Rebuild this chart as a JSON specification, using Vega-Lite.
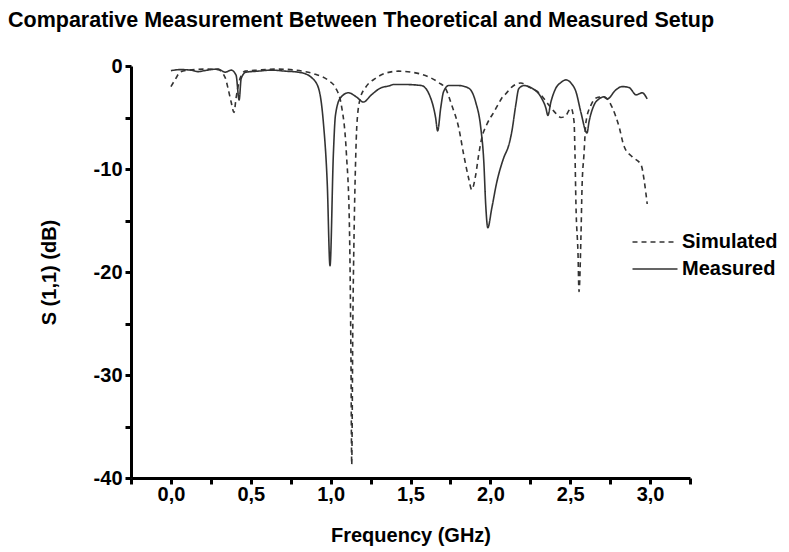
{
  "$schema": "https://vega.github.io/schema/vega-lite/v6.json",
  "width": 559,
  "height": 412,
  "autosize": {"type": "none"},
  "padding": {"left": 131, "top": 66, "right": 99, "bottom": 74},
  "background": "white",
  "title": {
    "text": "Comparative Measurement Between Theoretical and Measured Setup",
    "anchor": "start",
    "frame": "group",
    "dx": -123,
    "offset": 25,
    "font": "Liberation Sans",
    "fontSize": 21.5,
    "fontWeight": "bold",
    "color": "black"
  },
  "config": {
    "view": {"stroke": null},
    "axis": {
      "grid": false,
      "domainColor": "black",
      "domainWidth": 3,
      "tickColor": "black",
      "tickWidth": 3,
      "tickSize": 6,
      "labelFont": "Liberation Sans",
      "labelFontSize": 20,
      "labelFontWeight": "bold",
      "labelColor": "black",
      "titleFont": "Liberation Sans",
      "titleFontSize": 20,
      "titleFontWeight": "bold",
      "titleColor": "black"
    }
  },
  "data": {
    "values": [
      {"f": 0.0, "db": -0.45, "s": "Measured"},
      {"f": 0.06, "db": -0.35, "s": "Measured"},
      {"f": 0.125, "db": -0.4, "s": "Measured"},
      {"f": 0.17, "db": -0.55, "s": "Measured"},
      {"f": 0.21, "db": -0.45, "s": "Measured"},
      {"f": 0.25, "db": -0.35, "s": "Measured"},
      {"f": 0.295, "db": -0.3, "s": "Measured"},
      {"f": 0.34, "db": -0.6, "s": "Measured"},
      {"f": 0.377, "db": -0.4, "s": "Measured"},
      {"f": 0.408, "db": -0.9, "s": "Measured"},
      {"f": 0.427, "db": -3.3, "s": "Measured"},
      {"f": 0.44, "db": -1.2, "s": "Measured"},
      {"f": 0.47, "db": -0.6, "s": "Measured"},
      {"f": 0.545, "db": -0.5, "s": "Measured"},
      {"f": 0.628, "db": -0.4, "s": "Measured"},
      {"f": 0.716, "db": -0.5, "s": "Measured"},
      {"f": 0.797, "db": -0.6, "s": "Measured"},
      {"f": 0.84, "db": -0.75, "s": "Measured"},
      {"f": 0.879, "db": -1.1, "s": "Measured"},
      {"f": 0.923, "db": -2.1, "s": "Measured"},
      {"f": 0.954, "db": -5.4, "s": "Measured"},
      {"f": 0.979, "db": -11.5, "s": "Measured"},
      {"f": 0.996, "db": -19.4, "s": "Measured"},
      {"f": 1.017, "db": -8.6, "s": "Measured"},
      {"f": 1.03, "db": -4.8, "s": "Measured"},
      {"f": 1.061, "db": -3.1, "s": "Measured"},
      {"f": 1.111, "db": -2.6, "s": "Measured"},
      {"f": 1.161, "db": -3.0, "s": "Measured"},
      {"f": 1.205, "db": -3.5, "s": "Measured"},
      {"f": 1.255, "db": -2.8, "s": "Measured"},
      {"f": 1.318, "db": -2.1, "s": "Measured"},
      {"f": 1.362, "db": -1.95, "s": "Measured"},
      {"f": 1.394, "db": -1.8, "s": "Measured"},
      {"f": 1.469, "db": -1.8, "s": "Measured"},
      {"f": 1.569, "db": -1.9, "s": "Measured"},
      {"f": 1.626, "db": -3.1, "s": "Measured"},
      {"f": 1.657, "db": -5.0, "s": "Measured"},
      {"f": 1.67, "db": -6.3, "s": "Measured"},
      {"f": 1.689, "db": -4.1, "s": "Measured"},
      {"f": 1.707, "db": -2.5, "s": "Measured"},
      {"f": 1.739, "db": -1.9, "s": "Measured"},
      {"f": 1.802, "db": -1.9, "s": "Measured"},
      {"f": 1.864, "db": -2.15, "s": "Measured"},
      {"f": 1.908, "db": -3.5, "s": "Measured"},
      {"f": 1.94, "db": -6.0, "s": "Measured"},
      {"f": 1.959, "db": -9.3, "s": "Measured"},
      {"f": 1.971, "db": -13.5, "s": "Measured"},
      {"f": 1.984, "db": -15.7, "s": "Measured"},
      {"f": 2.009, "db": -13.8, "s": "Measured"},
      {"f": 2.04, "db": -11.3, "s": "Measured"},
      {"f": 2.084, "db": -8.9, "s": "Measured"},
      {"f": 2.115, "db": -7.7, "s": "Measured"},
      {"f": 2.134, "db": -6.4, "s": "Measured"},
      {"f": 2.159, "db": -3.8, "s": "Measured"},
      {"f": 2.178, "db": -2.2, "s": "Measured"},
      {"f": 2.21, "db": -1.9, "s": "Measured"},
      {"f": 2.26, "db": -2.15, "s": "Measured"},
      {"f": 2.316, "db": -3.0, "s": "Measured"},
      {"f": 2.348, "db": -4.1, "s": "Measured"},
      {"f": 2.36, "db": -4.8, "s": "Measured"},
      {"f": 2.379, "db": -3.5, "s": "Measured"},
      {"f": 2.41, "db": -2.15, "s": "Measured"},
      {"f": 2.442, "db": -1.6, "s": "Measured"},
      {"f": 2.473, "db": -1.35, "s": "Measured"},
      {"f": 2.505, "db": -1.65, "s": "Measured"},
      {"f": 2.536, "db": -2.5, "s": "Measured"},
      {"f": 2.567, "db": -4.5, "s": "Measured"},
      {"f": 2.605, "db": -6.5, "s": "Measured"},
      {"f": 2.618, "db": -5.4, "s": "Measured"},
      {"f": 2.649, "db": -3.8, "s": "Measured"},
      {"f": 2.68, "db": -3.2, "s": "Measured"},
      {"f": 2.712, "db": -3.0, "s": "Measured"},
      {"f": 2.731, "db": -3.2, "s": "Measured"},
      {"f": 2.787, "db": -2.3, "s": "Measured"},
      {"f": 2.825, "db": -2.0, "s": "Measured"},
      {"f": 2.869, "db": -2.1, "s": "Measured"},
      {"f": 2.913, "db": -2.8, "s": "Measured"},
      {"f": 2.95, "db": -2.6, "s": "Measured"},
      {"f": 2.982, "db": -3.2, "s": "Measured"},
      {"f": 0.0, "db": -2.0, "s": "Simulated"},
      {"f": 0.031, "db": -1.2, "s": "Simulated"},
      {"f": 0.056, "db": -0.6, "s": "Simulated"},
      {"f": 0.107, "db": -0.4, "s": "Simulated"},
      {"f": 0.213, "db": -0.3, "s": "Simulated"},
      {"f": 0.295, "db": -0.35, "s": "Simulated"},
      {"f": 0.339, "db": -1.1, "s": "Simulated"},
      {"f": 0.358, "db": -2.2, "s": "Simulated"},
      {"f": 0.377, "db": -3.5, "s": "Simulated"},
      {"f": 0.395, "db": -4.5, "s": "Simulated"},
      {"f": 0.408, "db": -3.1, "s": "Simulated"},
      {"f": 0.433, "db": -1.2, "s": "Simulated"},
      {"f": 0.465, "db": -0.5, "s": "Simulated"},
      {"f": 0.546, "db": -0.4, "s": "Simulated"},
      {"f": 0.672, "db": -0.3, "s": "Simulated"},
      {"f": 0.778, "db": -0.4, "s": "Simulated"},
      {"f": 0.84, "db": -0.55, "s": "Simulated"},
      {"f": 0.904, "db": -0.8, "s": "Simulated"},
      {"f": 0.986, "db": -1.4, "s": "Simulated"},
      {"f": 1.03, "db": -2.1, "s": "Simulated"},
      {"f": 1.067, "db": -3.8, "s": "Simulated"},
      {"f": 1.099, "db": -8.6, "s": "Simulated"},
      {"f": 1.117, "db": -15.1, "s": "Simulated"},
      {"f": 1.127, "db": -28.0, "s": "Simulated"},
      {"f": 1.132, "db": -38.7, "s": "Simulated"},
      {"f": 1.139, "db": -25.0, "s": "Simulated"},
      {"f": 1.147, "db": -16.0, "s": "Simulated"},
      {"f": 1.155, "db": -10.0, "s": "Simulated"},
      {"f": 1.165, "db": -5.5, "s": "Simulated"},
      {"f": 1.186, "db": -3.1, "s": "Simulated"},
      {"f": 1.218, "db": -2.1, "s": "Simulated"},
      {"f": 1.281, "db": -1.2, "s": "Simulated"},
      {"f": 1.343, "db": -0.7, "s": "Simulated"},
      {"f": 1.425, "db": -0.5, "s": "Simulated"},
      {"f": 1.507, "db": -0.6, "s": "Simulated"},
      {"f": 1.613, "db": -1.05, "s": "Simulated"},
      {"f": 1.676, "db": -1.6, "s": "Simulated"},
      {"f": 1.72, "db": -2.2, "s": "Simulated"},
      {"f": 1.758, "db": -3.8, "s": "Simulated"},
      {"f": 1.802, "db": -6.0, "s": "Simulated"},
      {"f": 1.833, "db": -8.6, "s": "Simulated"},
      {"f": 1.864, "db": -10.9, "s": "Simulated"},
      {"f": 1.883, "db": -12.0, "s": "Simulated"},
      {"f": 1.908, "db": -10.6, "s": "Simulated"},
      {"f": 1.927, "db": -8.6, "s": "Simulated"},
      {"f": 1.946, "db": -7.0, "s": "Simulated"},
      {"f": 1.977, "db": -5.7, "s": "Simulated"},
      {"f": 2.021, "db": -4.5, "s": "Simulated"},
      {"f": 2.05, "db": -3.7, "s": "Simulated"},
      {"f": 2.072, "db": -3.1, "s": "Simulated"},
      {"f": 2.097, "db": -2.7, "s": "Simulated"},
      {"f": 2.134, "db": -2.05, "s": "Simulated"},
      {"f": 2.191, "db": -1.65, "s": "Simulated"},
      {"f": 2.241, "db": -2.05, "s": "Simulated"},
      {"f": 2.304, "db": -2.6, "s": "Simulated"},
      {"f": 2.367, "db": -3.8, "s": "Simulated"},
      {"f": 2.41, "db": -4.6, "s": "Simulated"},
      {"f": 2.442, "db": -5.0, "s": "Simulated"},
      {"f": 2.473, "db": -4.8, "s": "Simulated"},
      {"f": 2.505, "db": -4.1, "s": "Simulated"},
      {"f": 2.524, "db": -5.4, "s": "Simulated"},
      {"f": 2.53, "db": -8.6, "s": "Simulated"},
      {"f": 2.536, "db": -13.5, "s": "Simulated"},
      {"f": 2.549, "db": -18.3, "s": "Simulated"},
      {"f": 2.555, "db": -21.9, "s": "Simulated"},
      {"f": 2.567, "db": -16.7, "s": "Simulated"},
      {"f": 2.574, "db": -11.8, "s": "Simulated"},
      {"f": 2.586, "db": -8.6, "s": "Simulated"},
      {"f": 2.599, "db": -5.4, "s": "Simulated"},
      {"f": 2.63, "db": -3.8, "s": "Simulated"},
      {"f": 2.662, "db": -3.1, "s": "Simulated"},
      {"f": 2.699, "db": -3.0, "s": "Simulated"},
      {"f": 2.725, "db": -3.1, "s": "Simulated"},
      {"f": 2.762, "db": -4.0, "s": "Simulated"},
      {"f": 2.806, "db": -5.9, "s": "Simulated"},
      {"f": 2.837, "db": -7.8, "s": "Simulated"},
      {"f": 2.887, "db": -8.8, "s": "Simulated"},
      {"f": 2.944, "db": -9.6, "s": "Simulated"},
      {"f": 2.963, "db": -11.1, "s": "Simulated"},
      {"f": 2.982, "db": -13.4, "s": "Simulated"}
    ]
  },
  "mark": {"type": "line", "color": "#333333", "strokeWidth": 1.6, "interpolate": "monotone", "clip": true},
  "encoding": {
    "x": {
      "field": "f",
      "type": "quantitative",
      "scale": {"domain": [-0.25, 3.25], "nice": false, "zero": false},
      "axis": {
        "title": "Frequency (GHz)",
        "values": [-0.25, 0, 0.25, 0.5, 0.75, 1, 1.25, 1.5, 1.75, 2, 2.25, 2.5, 2.75, 3, 3.25],
        "labelExpr": "abs(datum.value * 2 - round(datum.value * 2)) < 0.01 ? replace(format(datum.value, '.1f'), '.', ',') : ''",
        "labelPadding": 0,
        "titlePadding": 21
      }
    },
    "y": {
      "field": "db",
      "type": "quantitative",
      "scale": {"domain": [-40, 0], "nice": false},
      "axis": {
        "title": "S (1,1) (dB)",
        "values": [-40, -35, -30, -25, -20, -15, -10, -5, 0],
        "labelExpr": "datum.value % 10 == 0 ? '' + datum.value : ''",
        "labelPadding": 3,
        "titlePadding": 34
      }
    },
    "strokeDash": {
      "field": "s",
      "type": "nominal",
      "scale": {"domain": ["Simulated", "Measured"], "range": [[5, 4], [1, 0]]},
      "legend": {
        "title": null,
        "orient": "none",
        "legendX": 514,
        "legendY": 166,
        "symbolType": "M-2.5,0H2.5",
        "symbolSize": 324,
        "symbolStrokeWidth": 1.5,
        "symbolStrokeColor": "#333333",
        "labelFont": "Liberation Sans",
        "labelFontSize": 20,
        "labelFontWeight": "bold",
        "labelColor": "black",
        "labelOffset": 17,
        "rowPadding": 7
      }
    }
  }
}
